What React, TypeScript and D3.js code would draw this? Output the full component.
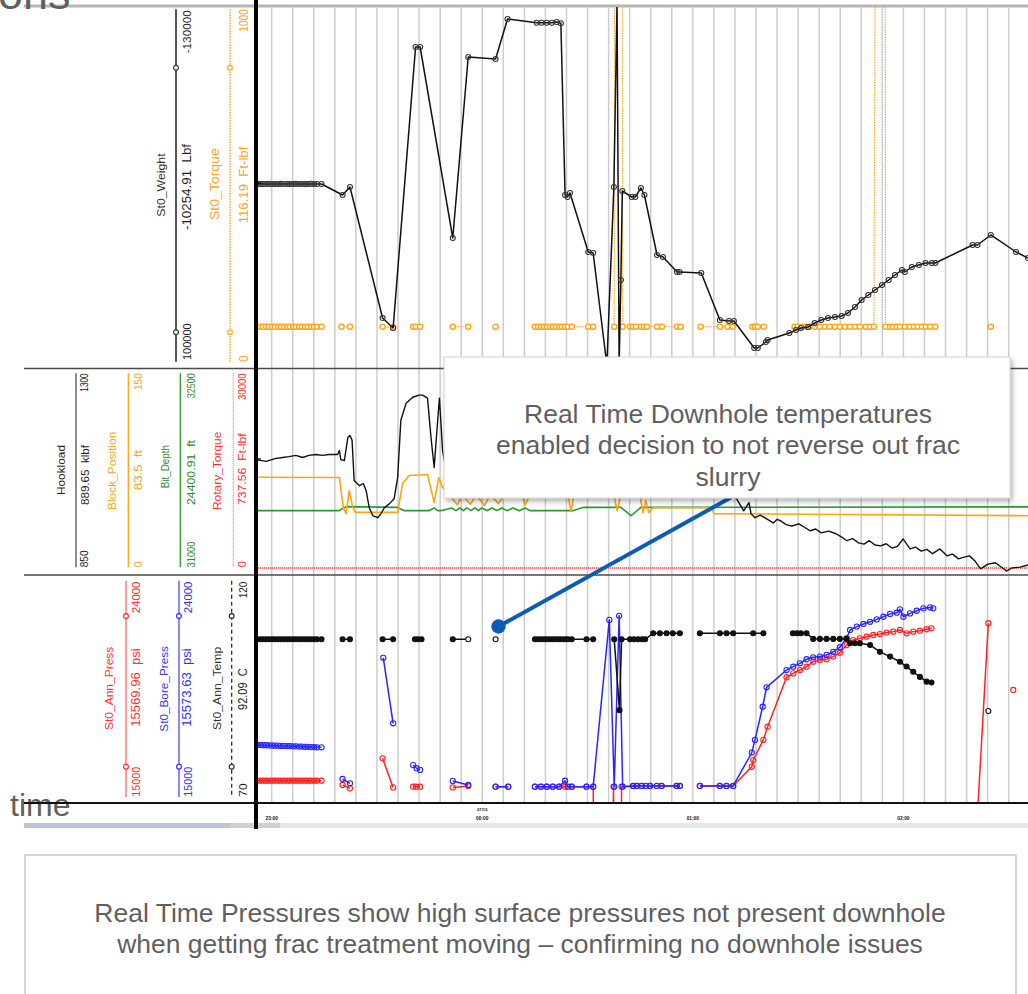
import React from "react";
import * as d3 from "d3";

type Pt = [number, number] | null;

// Time is in minutes after 23:00; grid every 6 minutes, labels every hour.
const timeDomain: [number, number] = [-4.47, 215.5];
const gridStepMin = 6;
const gridLastMin = 210;
const timeTicks = [0, 60, 120, 180];
const timeTickLabels = ["23:00", "00:00", "01:00", "02:00"];
const dateLabel = "07/15";

// ---- Upper track: string weight (Lbf) and torque (Ft-lbf)
const weightLbf: Pt[] = [
  [-4.2, -15980], [-3.3, -15980], [-2.5, -15900], [-1.6, -15980], [-0.8, -16050], [0.1, -15980],
  [0.9, -15900], [1.8, -15980], [2.6, -16050], [3.5, -15980], [4.4, -15980], [5.2, -15900],
  [6.1, -15980], [6.9, -16050], [7.8, -15980], [8.6, -15980], [9.5, -15900], [10.3, -15980],
  [11.2, -16050], [12.1, -15980], [12.9, -15980], [14.2, -15980],
  [20.2, -8810], [22.3, -14020], [31.6, 71330], [34.6, 77850], [41.0, -105240], [42.3, -105240],
  [51.6, 19210], [56.0, -98730], [63.8, -97420], [67.2, -123490], [75.5, -121070], [76.9, -121070],
  [78.3, -121070], [79.8, -121070], [81.2, -121530], [82.4, -120680], [83.6, -8810], [84.3, -7500],
  [85.0, -10110], [90.2, 28330], [91.6, 28980], [95.5, 101960], [97.5, -14020], [98.4, -134560],
  [99.0, 101960], [99.5, 46570], [99.9, -11420], [102.6, -7510], [103.6, -7510], [105.2, -13370],
  [106.2, -8810], [109.8, 30280], [111.5, 31590], [115.5, 41360], [116.2, 41360], [122.4, 42010],
  [127.7, 72630], [130.3, 73290], [131.7, 73290], [137.5, 90880], [138.5, 90880], [140.8, 86970],
  [141.3, 85670], [147.5, 81110], [149.4, 79150], [150.8, 77850], [152.8, 77200], [154.7, 74590],
  [156.6, 72630], [158.5, 71330], [160.5, 70680], [162.4, 70030], [164.2, 68070], [166.2, 64160],
  [168.1, 59600], [170.0, 56350], [171.9, 53090], [173.9, 49830], [175.8, 46570], [177.6, 43310],
  [179.6, 40060], [180.4, 41360], [182.4, 38100], [184.4, 36800], [186.3, 35500], [188.1, 35500],
  [189.1, 35500], [199.7, 23770], [201.1, 23770], [204.9, 17250], [212.1, 28330], [215.5, 32240],
];

const torqueFtLbf: Pt[] = [
  [-4.2, 100], [-3.3, 100], [-2.5, 100], [-1.6, 100], [-0.8, 100], [0.1, 100], [0.9, 100],
  [1.8, 100], [2.6, 100], [3.5, 100], [4.4, 100], [5.2, 100], [6.1, 100], [6.9, 100], [7.8, 100],
  [8.6, 100], [9.5, 100], [10.3, 100], [11.2, 100], [12.1, 100], [12.9, 100], [14.2, 100],
  null,
  [19.9, 100], [22.3, 100],
  null,
  [31.6, 100], [34.6, 98],
  null,
  [40.3, 100], [41.1, 100], [42.3, 100],
  null,
  [51.6, 100], [56.0, 100],
  null,
  [63.8, 100],
  null,
  [75.0, 100], [75.9, 100], [76.7, 100], [77.6, 100], [78.4, 100], [79.3, 100], [80.1, 100],
  [81.0, 100], [81.9, 100], [82.7, 100], [83.6, 100], [84.4, 100], [85.5, 100], [90.2, 100], [91.6, 100],
  null,
  [97.6, 100], [97.75, 1600], [99.85, 1600], [100.0, 100], [102.1, 100], [102.9, 100], [103.8, 100],
  [105.2, 100], [106.1, 100], [106.9, 100], [109.8, 100], [111.2, 100], [115.5, 100], [116.5, 100],
  null,
  [122.2, 100], [127.7, 100], [129.9, 100], [131.3, 100],
  null,
  [137.0, 100], [137.7, 100], [138.5, 100], [140.2, 100],
  null,
  [149.0, 100], [149.9, 100], [151.1, 100], [152.2, 100], [153.3, 100], [154.7, 100], [156.2, 100],
  [157.6, 100], [159.0, 100], [160.5, 100], [161.9, 100], [163.3, 100], [164.8, 100], [166.2, 100],
  [167.6, 100], [169.3, 100], [170.5, 100], [171.6, 100], [172.1, 1600], [174.8, 1600], [174.9, 100],
  [176.2, 100], [177.0, 100], [178.1, 100], [179.0, 100], [180.4, 100], [181.8, 100], [183.0, 100],
  [184.1, 100], [185.3, 100], [186.4, 100], [187.6, 100], [189.1, 100],
  null,
  [204.9, 100],
];

// ---- Middle track: hookload, block position, bit depth, rotary torque
const hookloadKlbf: Pt[] = [
  [-4.47, 1100], [-1.6, 1096], [1.2, 1103], [3.1, 1105], [4.9, 1107], [6.9, 1110], [8.8, 1105],
  [10.6, 1110], [12.6, 1112], [14.5, 1110], [16.3, 1112], [18.8, 1112], [19.3, 1121], [19.7, 1100],
  [20.7, 1098], [21.7, 1151], [22.3, 1156], [22.9, 1145], [23.5, 1052], [25.0, 1040], [26.1, 1045],
  [26.9, 1029], [27.8, 989], [28.8, 971], [30.2, 966], [31.1, 975], [32.1, 989], [33.5, 998],
  [34.9, 1010], [35.9, 1059], [36.8, 1191], [38.3, 1230], [40.2, 1244], [42.0, 1249], [43.0, 1249],
  [44.4, 1242], [45.4, 1151], [46.3, 1082], [47.3, 1191], [47.8, 1242], [48.7, 1121], [49.7, 1075],
  [55, 1060], [70, 1045], [90, 1035], [110, 1030], [125, 1020], [132.3, 1012], [134.5, 982],
  [136.0, 1001], [136.6, 975], [137.7, 966], [139.2, 972], [140.9, 964], [142.9, 954], [144.0, 962],
  [145.0, 959], [146.6, 950], [148.2, 947], [150.2, 952], [151.8, 944], [153.4, 936], [155.0, 940],
  [156.6, 931], [158.7, 935], [160.8, 929], [162.3, 922], [163.9, 913], [165.5, 918], [167.2, 908],
  [168.8, 905], [170.3, 913], [171.9, 903], [173.5, 901], [175.1, 906], [176.7, 896], [178.3, 900],
  [179.9, 917], [181.9, 894], [183.5, 898], [185.1, 889], [186.7, 893], [188.3, 883], [190.4, 894],
  [192.4, 878], [194.0, 882], [195.7, 871], [197.3, 875], [198.8, 878], [200.4, 866], [202.0, 848],
  [204.1, 859], [206.2, 862], [209.4, 843], [210.9, 850], [213.2, 852], [215.5, 857],
];

const blockPositionFt: Pt[] = [
  [-4.47, 69.8], [19.3, 69.6], [20.4, 46.4], [21.2, 41.8], [22.1, 59.5], [23.1, 46.4], [23.8, 42.8],
  [35.9, 42.8], [37.3, 65.0], [39.2, 71.1], [44.4, 71.9], [46.3, 50.3], [47.6, 69.6], [48.7, 61.9],
  [50.7, 56.4], [52.9, 48.5], [54.3, 56.4], [56.6, 49.0], [58.3, 56.4], [60.6, 48.0], [62.3, 56.4],
  [64.6, 49.5], [66.3, 56.4], [71.3, 56.4], [72.2, 48.5], [73.6, 56.4], [84.4, 56.4], [85.3, 43.5],
  [86.1, 56.4], [97.5, 56.4], [98.4, 44.0], [99.5, 56.4], [104.9, 56.4], [105.8, 42.5], [106.6, 51.8],
  [107.5, 42.5], [108.6, 46.4], [125.4, 46.4], [126.0, 41.8], [215.5, 40.2],
];

const bitDepthFt: Pt[] = [
  [-4.47, 31441], [19.3, 31441], [20.7, 31466], [21.7, 31472], [35.9, 31466], [37.8, 31441],
  [44.8, 31441], [46.3, 31462], [47.3, 31441], [48.2, 31441], [51.3, 31462], [52.5, 31441],
  [53.6, 31462], [54.6, 31441], [55.6, 31462], [56.8, 31441], [57.9, 31462], [58.9, 31441],
  [59.9, 31462], [61.3, 31441], [62.8, 31462], [64.2, 31441], [65.6, 31462], [67.0, 31441],
  [68.8, 31462], [70.5, 31441], [72.2, 31462], [73.6, 31441], [85.8, 31441], [88.7, 31466],
  [99.5, 31466], [102.4, 31402], [105.2, 31466], [215.5, 31470],
];

const rotaryTorqueFtLbf: Pt[] = [[-4.47, 0], [50, 0], [100, 0], [150, 0], [215.5, 0]];

// ---- Lower track: annulus / bore pressure (psi) and annulus temperature (C)
const annPressPsi: Pt[] = [
  [-4.2, 15680], [-3.3, 15680], [-2.5, 15680], [-1.6, 15680], [-0.8, 15680], [0.1, 15680],
  [0.9, 15680], [1.8, 15680], [2.6, 15680], [3.5, 15680], [4.4, 15680], [5.2, 15680], [6.1, 15680],
  [6.9, 15680], [7.8, 15680], [8.6, 15680], [9.5, 15680], [10.3, 15680], [11.2, 15680], [12.1, 15680],
  [12.9, 15680], [14.2, 15680],
  null,
  [20.2, 15500], [22.3, 15360],
  null,
  [31.6, 16610], [34.6, 15400],
  null,
  [40.3, 15430], [41.1, 15430], [42.3, 15430],
  null,
  [51.6, 15400], [56.0, 15460],
  null,
  [63.8, 15430], [67.4, 15430],
  null,
  [75.0, 15430], [76.7, 15430], [78.4, 15430], [80.1, 15430], [81.9, 15430], [83.6, 15430],
  [85.5, 15430], [89.7, 15430], [91.6, 15430], [91.8, 13000], [97.2, 13000], [97.4, 15430],
  [97.5, 13000], [99.6, 13000], [99.7, 15430], [103.0, 15460], [104.0, 15460], [105.4, 15460],
  [107.8, 15460], [111.1, 15460], [115.4, 15460], [116.3, 15460],
  null,
  [122.0, 15460], [127.7, 15460], [129.6, 15460], [131.5, 15460], [136.8, 16260], [137.2, 16540],
  [140.1, 17380], [141.3, 17930], [146.7, 19990], [148.6, 20150], [150.5, 20290], [152.4, 20430],
  [154.3, 20640], [156.2, 20710], [158.1, 20740], [160.0, 20850], [161.9, 21010], [163.8, 21330],
  [165.7, 21540], [167.6, 21610], [169.5, 21680], [171.4, 21750], [173.3, 21790], [175.2, 21850],
  [177.1, 21890], [179.0, 21960], [180.9, 21820], [182.8, 21890], [184.7, 21930], [186.6, 21990],
  [188.0, 22030],
  null,
  [200.4, 12500], [204.2, 22240],
  null,
  [211.3, 19460],
];

const borePressPsi: Pt[] = [
  [-4.2, 17170], [-3.3, 17170], [-2.5, 17160], [-1.6, 17160], [-0.8, 17150], [0.1, 17150],
  [0.9, 17140], [1.8, 17140], [2.6, 17130], [3.5, 17130], [4.4, 17120], [5.2, 17120], [6.1, 17110],
  [6.9, 17110], [7.8, 17100], [8.6, 17100], [9.5, 17090], [10.3, 17090], [11.2, 17080], [12.1, 17080],
  [12.9, 17070], [14.2, 17070],
  null,
  [20.2, 15750], [22.3, 15570],
  null,
  [31.8, 20800], [34.6, 18070],
  null,
  [40.3, 16330], [41.3, 16200], [42.3, 16130],
  null,
  [51.6, 15670], [56.0, 15500],
  null,
  [63.8, 15430], [67.4, 15430],
  null,
  [75.0, 15430], [76.7, 15430], [78.4, 15430], [80.1, 15430], [81.9, 15430], [83.6, 15680],
  [84.4, 15430], [85.5, 15430], [89.7, 15430], [91.6, 15430], [96.2, 22380], [97.6, 15430],
  [99.0, 22550], [100.0, 15430], [103.0, 15460], [104.0, 15460], [105.4, 15460], [106.6, 15460],
  [107.8, 15460], [109.7, 15460], [111.1, 15460], [115.4, 15460], [116.3, 15460],
  null,
  [122.0, 15460], [127.7, 15460], [129.6, 15460], [131.5, 15460], [136.8, 16850], [137.7, 17380],
  [139.9, 18760], [141.0, 19570], [146.7, 20290], [148.6, 20430], [150.5, 20570], [152.4, 20740],
  [154.3, 20820], [156.2, 20850], [158.1, 20920], [160.0, 21050], [161.9, 21240], [163.8, 21610],
  [164.8, 21960], [166.7, 22100], [168.6, 22210], [170.5, 22300], [172.4, 22400], [174.3, 22510],
  [176.2, 22630], [178.1, 22680], [179.0, 22820], [180.0, 22510], [181.9, 22650], [183.8, 22760],
  [185.7, 22860], [187.6, 22900], [188.5, 22860],
];

const annTempC: Pt[] = [
  [-4.2, 106.5], [-3.3, 106.5], [-2.5, 106.5], [-1.6, 106.5], [-0.8, 106.5], [0.1, 106.5],
  [0.9, 106.5], [1.8, 106.5], [2.6, 106.5], [3.5, 106.5], [4.4, 106.5], [5.2, 106.5], [6.1, 106.5],
  [6.9, 106.5], [7.8, 106.5], [8.6, 106.5], [9.5, 106.5], [10.3, 106.5], [11.2, 106.5], [12.1, 106.5],
  [12.9, 106.5], [14.2, 106.5],
  null,
  [20.2, 106.5], [22.3, 106.5],
  null,
  [31.6, 106.5], [34.6, 106.5],
  null,
  [40.8, 106.5], [41.7, 106.5], [42.7, 106.5],
  null,
  [51.6, 106.5], [56.0, 106.5],
  null,
  [63.8, 106.5],
  null,
  [75.0, 106.5], [75.9, 106.5], [76.7, 106.5], [77.6, 106.5], [78.4, 106.5], [79.3, 106.5],
  [80.1, 106.5], [81.0, 106.5], [81.9, 106.5], [82.7, 106.5], [83.6, 106.5], [84.4, 106.5],
  [85.5, 106.5], [89.7, 106.5], [91.6, 106.5],
  null,
  [97.6, 106.5], [99.1, 90.1], [99.7, 106.5], [102.1, 106.5], [103.2, 106.5], [104.4, 106.5],
  [105.5, 106.5], [106.4, 106.5], [108.7, 107.9], [110.6, 107.9], [112.5, 107.9], [114.3, 107.9],
  [116.3, 107.9],
  null,
  [122.0, 107.9], [127.7, 107.9], [129.6, 107.9], [131.5, 107.9], [137.2, 107.9], [140.1, 107.9],
  null,
  [148.5, 107.9], [149.7, 107.9], [150.8, 107.9], [152.4, 107.9], [154.3, 106.6], [156.2, 106.6],
  [158.1, 106.6], [160.0, 106.6], [161.9, 106.6], [163.8, 106.6], [164.8, 105.6], [166.2, 105.6],
  [167.6, 105.6], [170.5, 105.2], [173.3, 103.6], [176.2, 102.5], [179.0, 101.3], [180.9, 100.2],
  [182.8, 99.0], [184.7, 97.8], [186.6, 96.7], [188.0, 96.5],
  null,
  [204.2, 89.9],
];
// temperature samples drawn as hollow markers
const annTempHollowMin = [56.0, 63.8, 204.2];

const calloutLines = [
  "Real Time Downhole temperatures",
  "enabled decision to not reverse out frac",
  "slurry",
];
const noteLines = [
  "Real Time Pressures show high surface pressures not present downhole",
  "when getting frac treatment moving \u2013 confirming no downhole issues",
];

const FONT = "'Liberation Sans', Arial, sans-serif";
const ORANGE = "#ffa414";
const ORANGE_TXT = "#f7a51f";
const GREEN = "#2a9a2a";
const GREEN_TXT = "#2b8a2b";
const RED = "#ff2222";
const RED_TXT = "#ff3030";
const BLUE = "#2626ff";
const BLUE_TXT = "#3333e6";
const INK = "#1e1e1e";
const SLIDE_GRAY = "#5f5f5f";

type Sc = d3.ScaleLinear<number, number>;
type Marker = { fill: string; stroke: string; r: number; sw: number };

function Trace(props: {
  data: Pt[]; x: Sc; y: Sc; stroke: string; width: number; dash?: string;
  marker?: Marker; hollowAt?: number[];
}) {
  const { data, x, y, stroke, width, dash, marker, hollowAt } = props;
  const gen = d3
    .line<Pt>()
    .defined((d) => d !== null)
    .x((d) => x((d as [number, number])[0]))
    .y((d) => y((d as [number, number])[1]));
  const pts = data.filter((d) => d !== null) as [number, number][];
  return (
    <g>
      <path d={gen(data) || ""} fill="none" stroke={stroke} strokeWidth={width} strokeDasharray={dash} strokeLinejoin="round" />
      {marker &&
        pts.map((p, i) => {
          const hollow = hollowAt ? hollowAt.includes(p[0]) : false;
          return (
            <circle key={i} cx={x(p[0])} cy={y(p[1])} r={marker.r}
              fill={hollow ? "#fff" : marker.fill} stroke={marker.stroke} strokeWidth={marker.sw} />
          );
        })}
    </g>
  );
}

function VLabel(props: { bx: number; y: number; text: string; size: number; fill: string; len?: number }) {
  const { bx, y, text, size, fill, len } = props;
  return (
    <text
      transform={`translate(${bx},${y}) rotate(-90)`}
      fontSize={size}
      fill={fill}
      textLength={len}
      lengthAdjust={len ? "spacingAndGlyphs" : undefined}
      style={{ whiteSpace: "pre" }}
    >
      {text}
    </text>
  );
}

export default function App() {
  const x = d3.scaleLinear().domain(timeDomain).range([256, 1028]);
  // upper track
  const yWeight = d3.scaleLinear().domain([100000, -130000]).range([362, 9]);
  const yTorque = d3.scaleLinear().domain([0, 1000]).range([362, 9]);
  // middle track
  const midRange: [number, number] = [568, 373];
  const yHook = d3.scaleLinear().domain([850, 1300]).range(midRange);
  const yBlock = d3.scaleLinear().domain([0, 150]).range(midRange);
  const yBit = d3.scaleLinear().domain([31000, 32500]).range(midRange);
  const yRot = d3.scaleLinear().domain([0, 30000]).range(midRange);
  // lower track
  const lowRange: [number, number] = [797, 581];
  const yPress = d3.scaleLinear().domain([15000, 24000]).range(lowRange);
  const yTemp = d3.scaleLinear().domain([70, 120]).range(lowRange);

  const grid = d3.range(0, gridLastMin + 0.1, gridStepMin);

  return (
    <div style={{ position: "absolute", left: 0, top: 0 }}>
      <svg width={1028} height={994} style={{ display: "block", background: "#fff" }} fontFamily={FONT}>
        <defs>
          <clipPath id="clipTop"><rect x={257} y={7} width={771} height={361} /></clipPath>
          <clipPath id="clipMid"><rect x={257} y={370} width={771} height={205} /></clipPath>
          <clipPath id="clipLow"><rect x={257} y={576} width={771} height={227} /></clipPath>
          <filter id="boxShadow" x="-5%" y="-10%" width="112%" height="135%">
            <feDropShadow dx="2" dy="3" stdDeviation="2.5" floodColor="#000" floodOpacity="0.3" />
          </filter>
        </defs>

        {/* slide title fragment */}
        <line x1={24} x2={1028} y1={6} y2={6} stroke="#b5b5b5" strokeWidth={3} />
        <text x={-2} y={9} fontSize={45} fill={SLIDE_GRAY}>ons</text>

        {/* vertical time grid */}
        {grid.map((t) => (
          <line key={t} x1={x(t)} x2={x(t)} y1={7} y2={803} stroke="#cdcdcd" strokeWidth={1.5} />
        ))}

        {/* track separators */}
        <line x1={24} x2={1028} y1={368.5} y2={368.5} stroke="#4a4a4a" strokeWidth={1.6} />
        <line x1={24} x2={1028} y1={575} y2={575} stroke="#4a4a4a" strokeWidth={1.6} />

        {/* upper track */}
        <g clipPath="url(#clipTop)">
          <Trace data={torqueFtLbf} x={x} y={yTorque} stroke={ORANGE} width={1.1} dash="1.5,1"
            marker={{ fill: "#fff", stroke: ORANGE, r: 2.6, sw: 1.4 }} />
          <Trace data={weightLbf} x={x} y={yWeight} stroke="#111" width={1.5}
            marker={{ fill: "none", stroke: "#333", r: 2.5, sw: 1.1 }} />
        </g>

        {/* middle track */}
        <g clipPath="url(#clipMid)">
          <Trace data={rotaryTorqueFtLbf} x={x} y={yRot} stroke="#ff6a6a" width={2} dash="1,1" />
          <Trace data={bitDepthFt} x={x} y={yBit} stroke={GREEN} width={1.6} />
          <Trace data={blockPositionFt} x={x} y={yBlock} stroke={ORANGE} width={1.6} />
          <Trace data={hookloadKlbf} x={x} y={yHook} stroke="#111" width={1.4} />
        </g>

        {/* lower track */}
        <g clipPath="url(#clipLow)">
          <Trace data={annPressPsi} x={x} y={yPress} stroke={RED} width={1.5}
            marker={{ fill: "none", stroke: RED, r: 2.6, sw: 1.1 }} />
          <Trace data={borePressPsi} x={x} y={yPress} stroke={BLUE} width={1.5}
            marker={{ fill: "none", stroke: BLUE, r: 2.6, sw: 1.1 }} />
          <Trace data={annTempC} x={x} y={yTemp} stroke="#111" width={1.5}
            marker={{ fill: "#111", stroke: "#111", r: 2.5, sw: 1.1 }} hollowAt={annTempHollowMin} />
        </g>

        {/* "time" caption and time axis */}
        <text x={10} y={816} fontSize={32} fill={SLIDE_GRAY}>time</text>
        <line x1={24} x2={1028} y1={803} y2={803} stroke="#111" strokeWidth={2} />
        {timeTicks.map((t, i) => (
          <text key={t} x={x(t)} y={820} fontSize={4.8} fontWeight="bold" textAnchor="middle" fill="#111">
            {timeTickLabels[i]}
          </text>
        ))}
        <text x={x(60)} y={811} fontSize={4.2} fontWeight="bold" textAnchor="middle" fill="#111">{dateLabel}</text>
        <rect x={24} y={823} width={1004} height={5} fill="#e3e7ee" />
        <rect x={24} y={823} width={206} height={5} fill="#bcc5d8" />
        <rect x={230} y={823} width={50} height={5} fill="#d0d0d0" />

        {/* main value axis */}
        <line x1={256} x2={256} y1={0} y2={829} stroke="#000" strokeWidth={4} />
        {[183, 459, 639].map((yy) => (
          <line key={yy} x1={256} x2={261} y1={yy} y2={yy} stroke="#000" strokeWidth={1.2} />
        ))}

        {/* pen scales: upper track */}
        <line x1={176} x2={176} y1={9.3} y2={361.7} stroke="#555" strokeWidth={2} />
        <circle cx={176} cy={67.7} r={2.4} fill="#fff" stroke="#444" strokeWidth={1.2} />
        <circle cx={176} cy={332.3} r={2.4} fill="#fff" stroke="#444" strokeWidth={1.2} />
        <line x1={230} x2={230} y1={9.3} y2={361.7} stroke={ORANGE} strokeWidth={1.4} strokeDasharray="1.5,1.2" />
        <circle cx={230} cy={67.7} r={2.3} fill="#fff" stroke={ORANGE} strokeWidth={1.1} />
        <circle cx={230} cy={332.3} r={2.3} fill="#fff" stroke={ORANGE} strokeWidth={1.1} />
        <VLabel bx={190.5} y={53.3} text="-130000" size={11} fill={INK} len={43} />
        <VLabel bx={190.5} y={360} text="100000" size={11} fill={INK} len={36.7} />
        <VLabel bx={191} y={230} text="-10254.91  Lbf" size={12.5} fill={INK} len={86} />
        <VLabel bx={164.5} y={216.7} text="St0_Weight" size={11} fill="#333" len={63.3} />
        <VLabel bx={247.5} y={31.7} text="1000" size={12} fill={ORANGE_TXT} len={22.5} />
        <VLabel bx={247.5} y={362} text="0" size={12} fill={ORANGE_TXT} />
        <VLabel bx={247.5} y={223.3} text="116.19  Ft-lbf" size={12.5} fill={ORANGE_TXT} len={76.6} />
        <VLabel bx={219} y={220} text="St0_Torque" size={13} fill={ORANGE_TXT} len={71.7} />

        {/* pen scales: middle track */}
        <line x1={76} x2={76} y1={373.3} y2={567.3} stroke="#666" strokeWidth={1.5} />
        <line x1={128.3} x2={128.3} y1={373.3} y2={567.3} stroke={ORANGE} strokeWidth={1.3} />
        <line x1={180.3} x2={180.3} y1={373.3} y2={567.3} stroke={GREEN} strokeWidth={1.3} />
        <line x1={233.3} x2={233.3} y1={373.3} y2={567.3} stroke="#ff7a7a" strokeWidth={1.3} strokeDasharray="1,1" />
        <VLabel bx={88} y={391.7} text="1300" size={11} fill={INK} len={18.4} />
        <VLabel bx={88} y={567.3} text="850" size={11} fill={INK} len={17} />
        <VLabel bx={88.5} y={505} text="889.65  klbf" size={11.5} fill={INK} len={60} />
        <VLabel bx={65} y={495} text="Hookload" size={11} fill={INK} len={50} />
        <VLabel bx={141.7} y={390} text="150" size={10.5} fill={ORANGE_TXT} len={16.7} />
        <VLabel bx={141.7} y={567.3} text="0" size={10.5} fill={ORANGE_TXT} />
        <VLabel bx={141.7} y={490} text="83.5  ft" size={11.5} fill={ORANGE_TXT} len={40} />
        <VLabel bx={116} y={510} text="Block_Position" size={11.5} fill={ORANGE_TXT} len={78.3} />
        <VLabel bx={195} y={398.3} text="32500" size={11} fill={GREEN_TXT} len={25} />
        <VLabel bx={195} y={567.3} text="31000" size={11} fill={GREEN_TXT} len={25.6} />
        <VLabel bx={195} y={505} text="24400.91  ft" size={11.5} fill={GREEN_TXT} len={65} />
        <VLabel bx={168.5} y={488.3} text="Bit_Depth" size={11.5} fill={GREEN_TXT} len={43.3} />
        <VLabel bx={245.7} y={400} text="30000" size={11} fill={RED_TXT} len={26.7} />
        <VLabel bx={245.7} y={567.3} text="0" size={11} fill={RED_TXT} />
        <VLabel bx={245.7} y={505} text="737.56  Ft-lbf" size={11.5} fill={RED_TXT} len={71.7} />
        <VLabel bx={220.5} y={510} text="Rotary_Torque" size={11.5} fill={RED_TXT} len={78.3} />

        {/* pen scales: lower track */}
        <line x1={126} x2={126} y1={580.7} y2={797} stroke="#ff7a7a" strokeWidth={1.5} />
        <circle cx={126} cy={616} r={2.4} fill="#fff" stroke={RED} strokeWidth={1.1} />
        <circle cx={126} cy={766.7} r={2.4} fill="#fff" stroke={RED} strokeWidth={1.1} />
        <line x1={179} x2={179} y1={580.7} y2={797} stroke="#4a4aff" strokeWidth={1.3} />
        <circle cx={179} cy={616} r={2.4} fill="#fff" stroke={BLUE} strokeWidth={1.1} />
        <circle cx={179} cy={766.7} r={2.4} fill="#fff" stroke={BLUE} strokeWidth={1.1} />
        <line x1={231.7} x2={231.7} y1={580.7} y2={797} stroke="#222" strokeWidth={1.2} strokeDasharray="4,3" />
        <circle cx={231.7} cy={616} r={2.4} fill="#fff" stroke="#222" strokeWidth={1.1} />
        <circle cx={231.7} cy={766.7} r={2.4} fill="#fff" stroke="#222" strokeWidth={1.1} />
        <VLabel bx={140} y={613.3} text="24000" size={11} fill={RED_TXT} len={31.7} />
        <VLabel bx={140} y={796.7} text="15000" size={11} fill={RED_TXT} len={30} />
        <VLabel bx={139.5} y={726.7} text="15569.96  psi" size={12} fill={RED_TXT} len={78.3} />
        <VLabel bx={113} y={730} text="St0_Ann_Press" size={11.5} fill={RED_TXT} len={83.3} />
        <VLabel bx={191.7} y={613.3} text="24000" size={11} fill={BLUE_TXT} len={31.7} />
        <VLabel bx={191.7} y={796.7} text="15000" size={11} fill={BLUE_TXT} len={30} />
        <VLabel bx={191} y={726.7} text="15573.63  psi" size={12} fill={BLUE_TXT} len={78.3} />
        <VLabel bx={167.5} y={731.7} text="St0_Bore_Press" size={11.5} fill={BLUE_TXT} len={85.7} />
        <VLabel bx={247.3} y={598.3} text="120" size={11} fill={INK} len={16.7} />
        <VLabel bx={247.3} y={796.7} text="70" size={11} fill={INK} len={13.3} />
        <VLabel bx={247.3} y={710} text="92.09  C" size={12} fill={INK} len={41.7} />
        <VLabel bx={220.5} y={730} text="St0_Ann_Temp" size={11.5} fill="#333" len={83.3} />

        {/* callout with leader */}
        <line x1={498.5} y1={626.5} x2={730} y2={498} stroke="#0a5db2" strokeWidth={4} strokeLinecap="round" />
        <circle cx={498.5} cy={626.5} r={7.2} fill="#0a5db2" />
        <rect x={444} y={357} width={566} height={141} fill="#fff" stroke="#d2d2d2" strokeWidth={1} filter="url(#boxShadow)" />
        {calloutLines.map((s, i) => (
          <text key={s} x={728} y={422.5 + i * 31.5} fontSize={26.5} textAnchor="middle" fill={SLIDE_GRAY}>{s}</text>
        ))}

        {/* bottom note */}
        <rect x={25} y={855} width={991} height={160} fill="#fff" stroke="#c8c8c8" strokeWidth={1.5} />
        {noteLines.map((s, i) => (
          <text key={s} x={520} y={922 + i * 31} fontSize={26.5} textAnchor="middle" fill={SLIDE_GRAY}>{s}</text>
        ))}
      </svg>
    </div>
  );
}
